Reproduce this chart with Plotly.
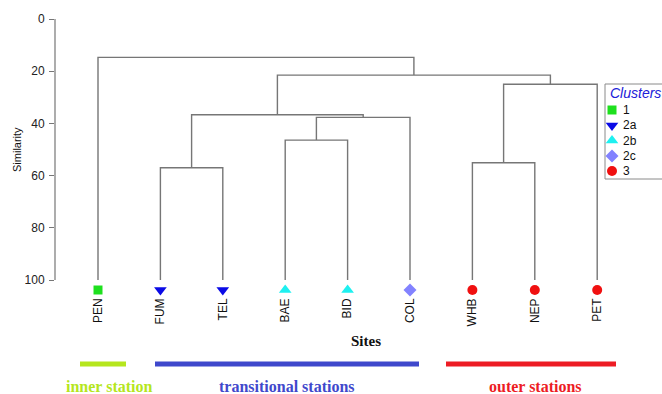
import plotly.graph_objects as go

# ---------------- data ----------------
sites = ["PEN", "FUM", "TEL", "BAE", "BID", "COL", "WHB", "NEP", "PET"]
site_cluster = ["1", "2a", "2a", "2b", "2b", "2c", "3", "3", "3"]
# merges: (left node, right node, similarity); leaves are 0..8, new nodes 9..
merges = [
    (1, 2, 57.0),    # FUM-TEL -> 9
    (3, 4, 46.4),    # BAE-BID -> 10
    (10, 5, 37.7),   # +COL -> 11
    (9, 11, 36.7),   # -> 12
    (6, 7, 55.1),    # WHB-NEP -> 13
    (13, 8, 25.0),   # +PET -> 14
    (12, 14, 21.5),  # -> 15
    (0, 15, 14.7),   # PEN + all -> 16
]
clusters = ["1", "2a", "2b", "2c", "3"]
cluster_colors = {"1": "#1ee01e", "2a": "#0a0ae6", "2b": "#1ef0f0", "2c": "#8282ff", "3": "#f01010"}
cluster_symbols = {"1": "square", "2a": "triangle-down", "2b": "triangle-up", "2c": "diamond", "3": "circle"}
cluster_msize = {"1": 9, "2a": 11, "2b": 11, "2c": 10, "3": 10}
groups = ["inner station", "transitional stations", "outer stations"]
group_colors = ["#b5e61d", "#3f48cc", "#ed1c24"]
yticks = [0, 20, 40, 60, 80, 100]

# ---------------- layout constants (pixels) ----------------
W, H = 662, 394
L, T, B = 55, 19, 280      # axis 0 at T, 100 at B
PB = 297                   # bottom of plotting area (room for leaf markers)
PX0, DX = 98, 62.4
SC = (B - T) / 100.0
def xd(p):
    return 1 + (p - PX0) / DX
def yd(p):
    return (p - T) / SC
def xp(p):
    return (p - L) / (W - L)
def yp(p):
    return (PB - p) / (PB - T)

# ---------------- dendrogram segments ----------------
pos = {i: i + 1 for i in range(len(sites))}
hgt = {i: 100.0 for i in range(len(sites))}
lx, ly = [], []
nid = len(sites)
for a, b, s in merges:
    xa, xb = pos[a], pos[b]
    lx += [xa, xa, xb, xb, None]
    ly += [hgt[a], s, s, hgt[b], None]
    pos[nid] = (xa + xb) / 2
    hgt[nid] = s
    nid += 1

fig = go.Figure()
fig.add_trace(go.Scatter(x=lx, y=ly, mode="lines",
                         line=dict(color="#767676", width=1.4),
                         hoverinfo="skip", showlegend=False))

# leaf markers
for c in clusters:
    idx = [i for i, sc in enumerate(site_cluster) if sc == c]
    fig.add_trace(go.Scatter(
        x=[i + 1 for i in idx], y=[yd(290)] * len(idx), mode="markers",
        marker=dict(symbol=cluster_symbols[c], color=cluster_colors[c], opacity=1,
                    size=cluster_msize[c], line=dict(width=0)),
        cliponaxis=False, name=c, showlegend=False))

# custom legend glyphs
leg_y = [110, 125.5, 140.5, 156, 171]
for c, v in zip(clusters, leg_y):
    fig.add_trace(go.Scatter(
        x=[xd(612)], y=[yd(v)], mode="markers",
        marker=dict(symbol=cluster_symbols[c], color=cluster_colors[c], opacity=1,
                    size=cluster_msize[c], line=dict(width=0)),
        cliponaxis=False, showlegend=False, hoverinfo="skip"))

annotations = []
for c, v in zip(clusters, leg_y):
    annotations.append(dict(x=xp(621), y=yp(v), xref="paper", yref="paper",
                            text=c, showarrow=False, xanchor="left", yanchor="middle",
                            font=dict(family="Liberation Sans, Arial", size=12, color="#111")))
annotations.append(dict(x=xp(608), y=yp(93), xref="paper", yref="paper",
                        text="<i>Clusters</i>", showarrow=False, xanchor="left", yanchor="middle",
                        font=dict(family="Liberation Sans, Arial", size=14, color="#2020d8")))
annotations.append(dict(x=xp(17), y=yp(150), xref="paper", yref="paper",
                        text="Similarity", textangle=-90, showarrow=False,
                        xanchor="center", yanchor="middle",
                        font=dict(family="Liberation Sans, Arial", size=11, color="#111")))
annotations.append(dict(x=xp(366), y=yp(341), xref="paper", yref="paper",
                        text="<b>Sites</b>", showarrow=False,
                        xanchor="center", yanchor="middle",
                        font=dict(family="Liberation Serif, Times New Roman", size=15, color="#111")))

group_lines = [(80, 126), (155, 419), (446, 616)]
group_text_x = [109, 287, 535]
shapes = []
for (x0, x1), col, g, tx in zip(group_lines, group_colors, groups, group_text_x):
    shapes.append(dict(type="line", xref="paper", yref="paper",
                       x0=xp(x0), x1=xp(x1), y0=yp(364), y1=yp(364),
                       line=dict(color=col, width=5)))
    annotations.append(dict(x=xp(tx), y=yp(386), xref="paper", yref="paper",
                            text="<b>" + g + "</b>", showarrow=False,
                            xanchor="center", yanchor="middle",
                            font=dict(family="Liberation Serif, Times New Roman", size=16, color=col)))
shapes.append(dict(type="rect", xref="paper", yref="paper",
                   x0=xp(605), x1=xp(680), y0=yp(179), y1=yp(84),
                   line=dict(color="#8a8a8a", width=1)))
# y axis line spanning 0..100 only
shapes.append(dict(type="line", xref="paper", yref="y", x0=0, x1=0,
                   y0=yticks[0], y1=yticks[-1], line=dict(color="#767676", width=1.2)))

fig.update_layout(
    width=W, height=H,
    margin=dict(l=L, r=0, t=T, b=H - PB, pad=0),
    paper_bgcolor="white", plot_bgcolor="white",
    showlegend=False,
    xaxis=dict(range=[xd(L), xd(W)], tickvals=list(range(1, len(sites) + 1)),
               ticktext=sites, tickangle=-90, ticks="", showline=False,
               showgrid=False, zeroline=False, ticklabelstandoff=-2,
               tickfont=dict(family="Liberation Sans, Arial", size=12, color="#111")),
    yaxis=dict(range=[yd(PB), 0], tickvals=yticks, ticks="outside", ticklen=5,
               tickcolor="#767676", showline=False,
               showgrid=False, zeroline=False, ticklabelstandoff=2,
               tickfont=dict(family="Liberation Sans, Arial", size=12, color="#222")),
    annotations=annotations, shapes=shapes,
)

fig.write_html("out.html", config={"displayModeBar": False},
               post_script="document.body.style.margin='0px';")
